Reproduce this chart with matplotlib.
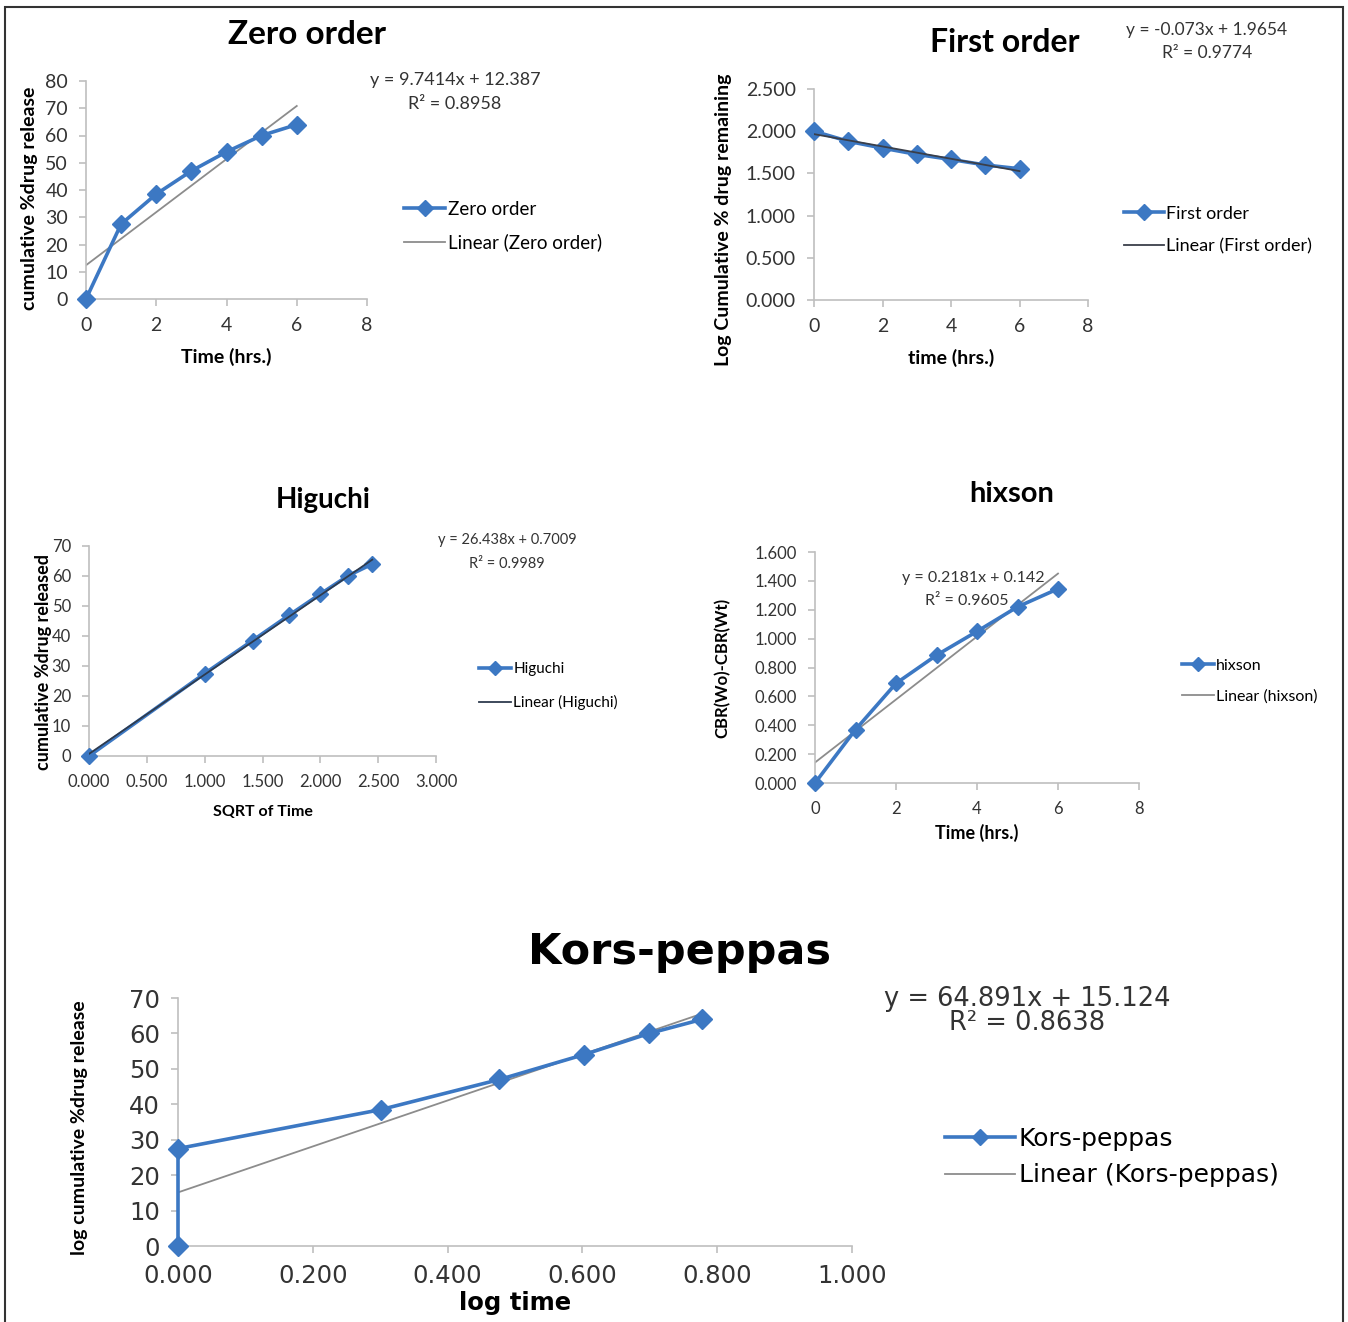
import numpy as np
import matplotlib
matplotlib.use("Agg")
import matplotlib.pyplot as plt
from matplotlib.patches import Rectangle

# release data
time_hrs = [0, 1, 2, 3, 4, 5, 6]
zero_order = [0, 27.5, 38.5, 47, 54, 60, 64]
first_order = [2.000, 1.880, 1.800, 1.725, 1.665, 1.600, 1.555]
sqrt_time = [0.000, 1.000, 1.414, 1.732, 2.000, 2.236, 2.449]
higuchi = [0, 27.5, 38.5, 47, 54, 60, 64]
hixson = [0.000, 0.370, 0.690, 0.885, 1.050, 1.220, 1.345]
log_time = [0.000, 0.000, 0.301, 0.477, 0.602, 0.699, 0.778]
kors_peppas = [0, 27.5, 38.5, 47, 54, 60, 64]

# trend line coefficients (slope, intercept) as printed
fit_zero = (9.7414, 12.387)
fit_first = (-0.073, 1.9654)
fit_higuchi = (26.438, 0.7009)
fit_hixson = (0.2181, 0.142)
fit_kp = (64.891, 15.124)

BLUE = "#3C78C3"
GRAY = "#8C8C8C"
NARROW = ["Lato", "DejaVu Sans"]
WIDE = ["DejaVu Sans"]

W, H = 1348, 1322
fig = plt.figure(figsize=(W / 100, H / 100), dpi=100)


def px(x0, y0, x1, y1):
    '''axes rect from pixel box (left, top, right, bottom)'''
    return [x0 / W, 1 - y1 / H, (x1 - x0) / W, (y1 - y0) / H]


def ftext(x, y, s, **kw):
    fig.text(x / W, 1 - y / H, s, ha="center", va="center", **kw)


def panel(rect, x, y, fit, xlim, xticks, xfmt, ylim, yticks, yfmt, fam, tsize,
          name, trend_col=GRAY, trend_top=False, msize=9):
    ax = fig.add_axes(px(*rect))
    ax.plot(x, y, color=BLUE, lw=2.6, marker="D", ms=msize, label=name, zorder=3,
            clip_on=False)
    xs = np.array([min(x), max(x)])
    ax.plot(xs, fit[0] * xs + fit[1], color=trend_col, lw=1.3,
            label="Linear (%s)" % name, zorder=4 if trend_top else 2)
    ax.set_xlim(*xlim)
    ax.set_ylim(*ylim)
    ax.set_xticks(xticks)
    ax.set_yticks(yticks)
    ax.set_xticklabels([xfmt.format(v) for v in xticks], family=fam)
    ax.set_yticklabels([yfmt.format(v) for v in yticks], family=fam)
    for s in ["top", "right"]:
        ax.spines[s].set_visible(False)
    for s in ["left", "bottom"]:
        ax.spines[s].set_color("#BFBFBF")
        ax.spines[s].set_linewidth(1.2)
    ax.tick_params(colors="#BFBFBF", labelcolor="#333333", length=5, width=1.2,
                   labelsize=tsize, pad=8)
    ax.patch.set_alpha(0)
    return ax


def legend(ax, x, y, fam, size, hlen, spacing):
    ax.legend(loc="center left", bbox_to_anchor=(x / W, 1 - y / H),
              bbox_transform=fig.transFigure, frameon=False, numpoints=1,
              handlelength=hlen, handletextpad=0.15, labelspacing=spacing,
              borderpad=0, borderaxespad=0,
              prop={"family": fam, "size": size}, markerscale=0.85)


# Zero order
ax1 = panel((86, 81, 367, 299), time_hrs, zero_order, fit_zero, (0, 8),
            [0, 2, 4, 6, 8], "{:g}", (0, 80), list(range(0, 81, 10)), "{:g}",
            NARROW, 14, "Zero order")
ftext(307, 35, "Zero order", family=NARROW, size=24, weight="bold")
ftext(455, 80, "y = 9.7414x + 12.387", family=NARROW, size=13, color="#333333")
ftext(455, 104, "R² = 0.8958", family=NARROW, size=13, color="#333333")
ftext(30, 198, "cumulative %drug release", family=NARROW, size=14, weight="bold",
      rotation=90)
ftext(226, 357, "Time (hrs.)", family=NARROW, size=14, weight="bold")
legend(ax1, 404, 226, NARROW, 13.5, 2.2, 0.85)

# First order
ax2 = panel((814, 89, 1088, 300), time_hrs, first_order, fit_first, (0, 8),
            [0, 2, 4, 6, 8], "{:g}", (0, 2.5), [0, 0.5, 1.0, 1.5, 2.0, 2.5],
            "{:.3f}", NARROW, 14, "First order", trend_col="#3A3F4A",
            trend_top=True)
ftext(1005, 43, "First order", family=NARROW, size=23, weight="bold")
ftext(1207, 30, "y = -0.073x + 1.9654", family=NARROW, size=12.5, color="#333333")
ftext(1207, 53, "R² = 0.9774", family=NARROW, size=12.5, color="#333333")
ftext(724, 220, "Log Cumulative % drug remaining", family=NARROW, size=14,
      weight="bold", rotation=90)
ftext(951, 358, "time (hrs.)", family=NARROW, size=14, weight="bold")
legend(ax2, 1124, 230, NARROW, 13, 2.2, 0.9)

# Higuchi
ax3 = panel((89, 546, 436, 756), sqrt_time, higuchi, fit_higuchi, (0, 3),
            [0, 0.5, 1.0, 1.5, 2.0, 2.5, 3.0], "{:.3f}", (0, 70),
            list(range(0, 71, 10)), "{:g}", NARROW, 12, "Higuchi",
            trend_col="#2E3B4E", trend_top=True, msize=8)
ftext(323, 500, "Higuchi", family=NARROW, size=20, weight="bold")
ftext(507, 540, "y = 26.438x + 0.7009", family=NARROW, size=10.5, color="#333333")
ftext(507, 564, "R² = 0.9989", family=NARROW, size=10.5, color="#333333")
ftext(44, 662, "cumulative %drug released", family=NARROW, size=13, weight="bold",
      rotation=90)
ftext(263, 812, "SQRT of Time", family=NARROW, size=11.5, weight="bold")
legend(ax3, 479, 686, NARROW, 11, 2.1, 1.25)

# hixson
ax4 = panel((815, 552, 1139, 783), time_hrs, hixson, fit_hixson, (0, 8),
            [0, 2, 4, 6, 8], "{:g}", (0, 1.6),
            [0, 0.2, 0.4, 0.6, 0.8, 1.0, 1.2, 1.4, 1.6], "{:.3f}", NARROW, 12,
            "hixson", msize=8)
ftext(1012, 494, "hixson", family=NARROW, size=21, weight="bold")
ftext(973, 578, "y = 0.2181x + 0.142", family=NARROW, size=11.5, color="#333333")
ftext(967, 601, "R² = 0.9605", family=NARROW, size=11.5, color="#333333")
ftext(722, 668, "CBR(Wo)-CBR(Wt)", family=NARROW, size=12, weight="bold",
      rotation=90)
ftext(977, 833, "Time (hrs.)", family=NARROW, size=13, weight="bold")
legend(ax4, 1182, 681, NARROW, 11.5, 2.0, 1.0)

# Kors-peppas
ax5 = panel((178, 998, 852, 1246), log_time, kors_peppas, fit_kp, (0, 1.0),
            [0, 0.2, 0.4, 0.6, 0.8, 1.0], "{:.3f}", (0, 70),
            list(range(0, 71, 10)), "{:g}", WIDE, 17.5, "Kors-peppas", msize=10)
ftext(680, 952, "Kors-peppas", family=WIDE, size=31, weight="bold")
ftext(1027, 999, "y = 64.891x + 15.124", family=WIDE, size=18.5, color="#333333")
ftext(1027, 1023, "R² = 0.8638", family=WIDE, size=18.5, color="#333333")
ftext(80, 1128, "log cumulative %drug release", family=NARROW, size=14,
      weight="bold", rotation=90)
ftext(515, 1303, "log time", family=WIDE, size=17.5, weight="bold")
legend(ax5, 945, 1157, WIDE, 18, 2.8, 0.5)

# outer frame (bottom edge falls outside the picture)
fig.patches.append(Rectangle((5 / W, -0.01), 1338 / W, 1.01 - 7 / H, fill=False,
                             edgecolor="#333333", lw=1.5,
                             transform=fig.transFigure, figure=fig))

fig.savefig("out.png", dpi=100)
